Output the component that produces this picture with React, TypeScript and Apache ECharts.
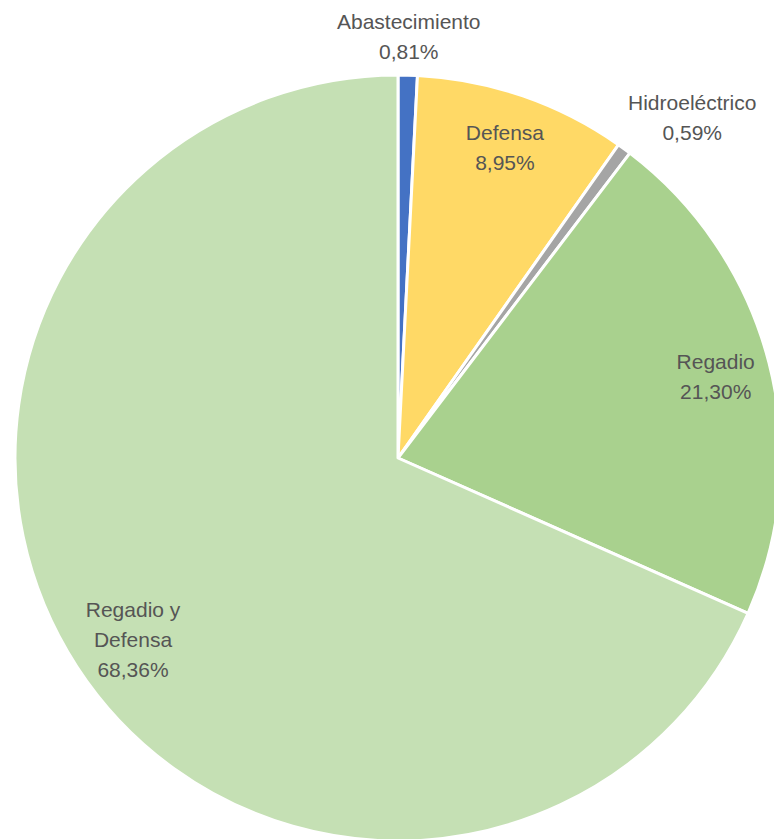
import React, { useEffect, useRef } from "react";
import * as echarts from "echarts";

const categories = ["Abastecimiento", "Defensa", "Hidroeléctrico", "Regadio", "Regadio y Defensa"];
const labelNames = ["Abastecimiento", "Defensa", "Hidroeléctrico", "Regadio", "Regadio y\nDefensa"];
const values = [0.81, 8.95, 0.59, 21.3, 68.36];
const colors = ["#4472C4", "#FFD966", "#A5A5A5", "#A9D18E", "#C5E0B4"];
const innerLabelIdx = [1, 3, 4];
const outerLabelIdx = [0, 2];

const fmt = (i: number) => labelNames[i] + "\n" + values[i].toFixed(2).replace(".", ",") + "%";

export default function App() {
  const ref = useRef<HTMLDivElement>(null);
  useEffect(() => {
    if (!ref.current) return;
    const chart = echarts.init(ref.current, undefined, { renderer: "svg" });
    const center = [398, 458];
    const labelStyle = {
      color: "#555555",
      fontFamily: "Liberation Sans, Arial, sans-serif",
      fontSize: 21,
      lineHeight: 30,
    };
    const mainData = categories.map((c, i) => ({
      name: c,
      value: values[i],
      itemStyle: { color: colors[i] },
    }));
    const labelSeries = (name: string, radius: number, show: number[]) => ({
      type: "pie",
      name,
      silent: true,
      center,
      radius: [0, radius],
      startAngle: 90,
      clockwise: true,
      itemStyle: { color: "rgba(0,0,0,0)", borderWidth: 0 },
      emphasis: { disabled: true },
      labelLine: { show: false },
      data: categories.map((c, i) => ({
        name: c,
        value: values[i],
        label: {
          show: show.includes(i),
          position: "inside",
          formatter: () => fmt(i),
          ...labelStyle,
        },
      })),
      z: 3,
    });
    chart.setOption({
      animation: false,
      series: [
        {
          type: "pie",
          name: "main",
          center,
          radius: [0, 383],
          startAngle: 90,
          clockwise: true,
          itemStyle: { borderColor: "#ffffff", borderWidth: 3 },
          label: { show: false },
          labelLine: { show: false },
          emphasis: { disabled: true },
          data: mainData,
          z: 2,
        },
        {
          ...labelSeries("innerLabels", 650, innerLabelIdx),
          labelLayout: (p: any) => (p.dataIndex === 4 ? { dx: 10, dy: 3 } : {}),
        },
        {
          ...labelSeries("outerLabels", 838, outerLabelIdx),
          labelLayout: (p: any) => (p.dataIndex === 2 ? { dx: 45, dy: 0 } : {}),
        },
      ],
    });
    return () => chart.dispose();
  }, []);
  return (
    <div
      ref={ref}
      style={{ position: "fixed", left: 0, top: 0, width: 774, height: 839, background: "#ffffff" }}
    />
  );
}
